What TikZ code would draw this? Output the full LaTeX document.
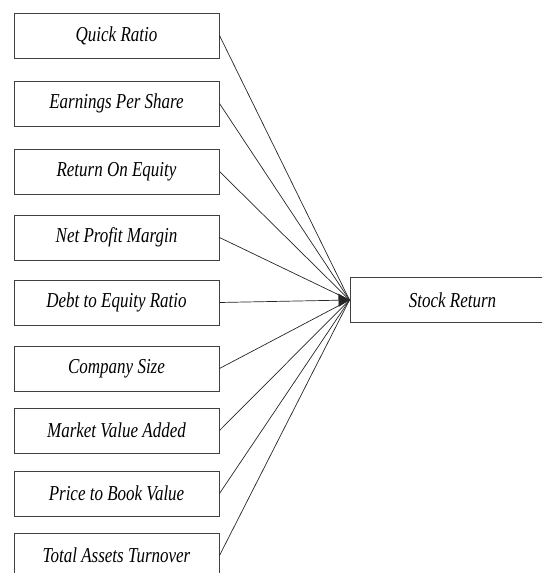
\documentclass[tikz,border=0pt]{standalone}
\usepackage{fontspec}
\setmainfont{Liberation Serif}
\usetikzlibrary{arrows.meta}
\tikzset{
    varbox/.style={draw=black!75, line width=1pt, minimum width=205pt,
        minimum height=45pt, inner sep=0pt,
        font=\fontsize{17}{19}\selectfont\itshape},
    link/.style={black!85, line width=0.7pt},
    mainlink/.style={link, -{Triangle[length=11pt,width=13pt]}}
}
\newcommand{\tall}[1]{\scalebox{1}[1.25]{#1}}
\begin{document}
\begin{tikzpicture}[x=1pt, y=-1pt]
% Frame of the picture
\clip (0,0) rectangle (542,573);
% Dependent variable
\node[varbox] (ret) at (452.5,300) {\tall{Stock Return}};
% Independent variables and their links
\foreach \n/\y/\txt in {
    qr/35.5/Quick Ratio,
    eps/103.5/Earnings Per Share,
    roe/171.5/Return On Equity,
    npm/237.5/Net Profit Margin,
    size/368.5/Company Size,
    mva/430.5/Market Value Added,
    pbv/493.5/Price to Book Value,
    tato/555.5/Total Assets Turnover}{
    \node[varbox] (\n) at (116.5,\y) {\tall{\txt}};
    \draw[link] (\n.east) -- (ret.west);
}
% The one arrowhead sits on the flat link
\node[varbox] (der) at (116.5,302.5) {\tall{Debt to Equity Ratio}};
\draw[mainlink] (der.east) -- (ret.west);
\end{tikzpicture}
\end{document}
